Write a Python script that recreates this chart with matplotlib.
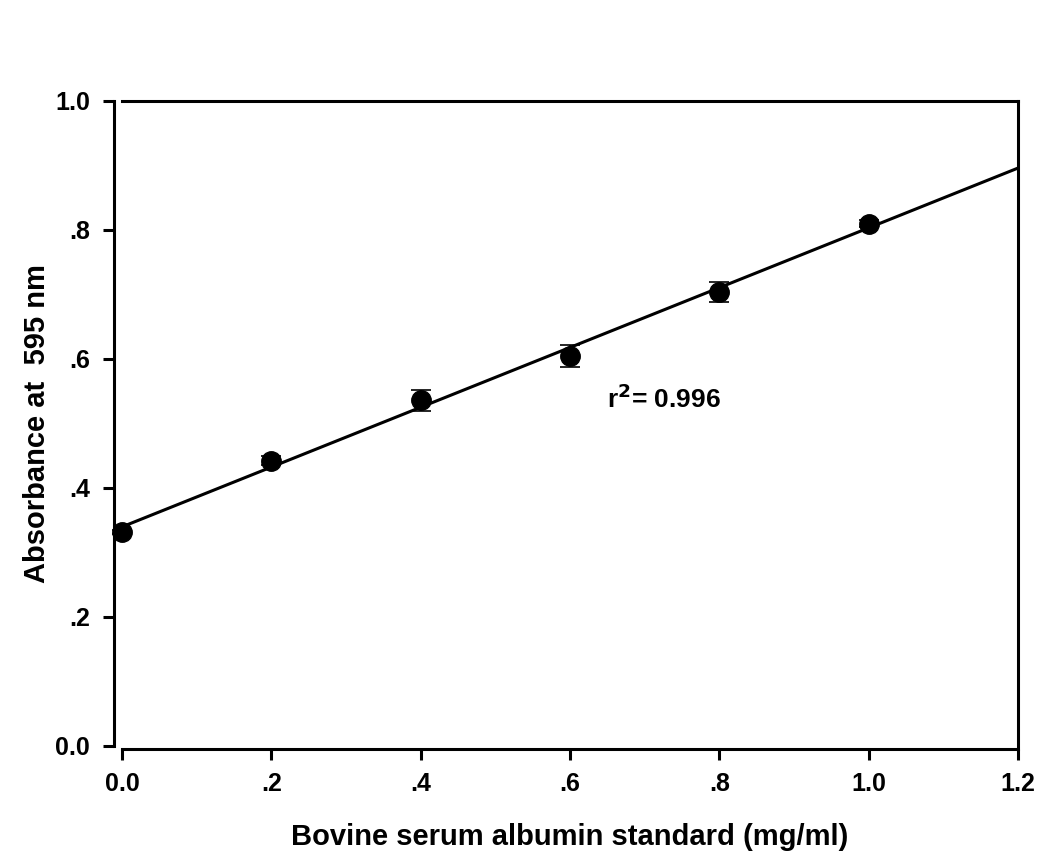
import matplotlib
matplotlib.use("Agg")
import matplotlib.pyplot as plt
import numpy as np

plt.rcParams['font.family'] = ['Liberation Sans', 'DejaVu Sans']
plt.rcParams['font.weight'] = 'bold'
plt.rcParams['mathtext.default'] = 'bf'

# BSA standard curve (Bradford assay)
bsa_conc = [0.0, 0.2, 0.4, 0.6, 0.8, 1.0]
absorbance = [0.332, 0.442, 0.536, 0.605, 0.704, 0.810]
abs_err = [0.003, 0.007, 0.016, 0.017, 0.015, 0.006]

x_ticks = [0.0, 0.2, 0.4, 0.6, 0.8, 1.0, 1.2]
x_ticklabels = ['0.0', '.2', '.4', '.6', '.8', '1.0', '1.2']
y_ticks = [0.0, 0.2, 0.4, 0.6, 0.8, 1.0]
y_ticklabels = ['0.0', '.2', '.4', '.6', '.8', '1.0']

fig = plt.figure(figsize=(10.6, 8.55), dpi=100)
ax = fig.add_axes([0.1151, 0.1275, 0.8453, 0.7544])

# linear regression through the standards
slope, intercept = np.polyfit(bsa_conc, absorbance, 1)
fit_x = np.array([0.0, 1.2])
ax.plot(fit_x, intercept + slope * fit_x, color='black', lw=2.2, zorder=2)

ax.errorbar(bsa_conc, absorbance, yerr=abs_err, fmt='o', color='black',
            markersize=14, elinewidth=1.2, capsize=7, capthick=1.2,
            zorder=3, clip_on=False)

ax.text(0.650, 0.538, r'r$^{2}$= 0.996', fontsize=19, fontweight='bold',
        va='center', ha='left')

ax.set_xlim(0, 1.2)
ax.set_ylim(0, 1.0)
ax.set_xticks(x_ticks)
ax.set_xticklabels(x_ticklabels)
ax.set_yticks(y_ticks)
ax.set_yticklabels(y_ticklabels)

for s in ax.spines.values():
    s.set_linewidth(2.2)
ax.spines['left'].set_position(('outward', 6))
ax.spines['bottom'].set_position(('outward', 2))

ax.tick_params(axis='both', direction='out', length=8, width=2.2,
               labelsize=18, pad=9)

ax.set_xlabel('Bovine serum albumin standard (mg/ml)', fontsize=21,
              fontweight='bold', labelpad=19)
ax.set_ylabel('Absorbance at  595 nm', fontsize=21, fontweight='bold',
              labelpad=3)

fig.savefig('out.png', dpi=100, facecolor='white')
